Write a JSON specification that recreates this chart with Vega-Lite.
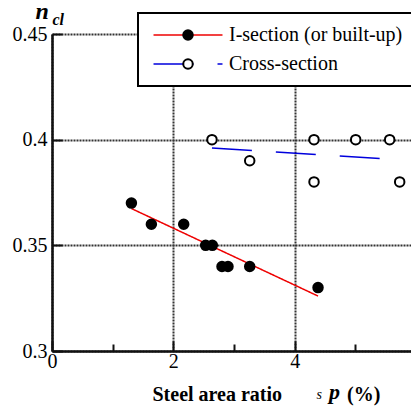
{
  "$schema": "https://vega.github.io/schema/vega-lite/v6.json",
  "width": 364,
  "height": 317,
  "autosize": {"type": "none"},
  "padding": {"left": 52, "top": 34, "right": 0, "bottom": 56},
  "background": "white",
  "config": {
    "font": "Liberation Serif",
    "view": {"stroke": null},
    "legend": {"strokeWidth": 2},
    "axis": {"labelFont": "Liberation Serif", "titleFont": "Liberation Serif"}
  },
  "title": {
    "text": "p",
    "orient": "top",
    "anchor": "start",
    "frame": "group",
    "font": "Liberation Serif",
    "fontSize": 22,
    "fontStyle": "italic",
    "fontWeight": "bold",
    "color": "black",
    "dx": 277,
    "dy": 405,
    "offset": 0
  },
  "resolve": {"axis": {"x": "independent", "y": "independent"}},
  "layer": [
    {
      "data": {
        "values": [
          {"x": 1.31, "y": 0.3674, "series": "I-section (or built-up)"},
          {"x": 4.385, "y": 0.326, "series": "I-section (or built-up)"},
          {"x": 2.637, "y": 0.3961, "series": "Cross-section"},
          {"x": 5.418, "y": 0.3911, "series": "Cross-section"}
        ]
      },
      "mark": {"type": "line", "strokeWidth": 1.5, "clip": false},
      "encoding": {
        "x": {
          "field": "x",
          "type": "quantitative",
          "scale": {"domain": [0, 6], "nice": false, "zero": false},
          "axis": {
            "orient": "bottom",
            "title": "Steel area ratio\u00a0\u00a0\u00a0\u00a0\u00a0\u00a0\u00a0\u00a0\u00a0\u00a0\u00a0\u00a0\u00a0(%)",
            "values": [0, 1, 2, 3, 4, 5, 6],
            "labelExpr": "datum.value % 2 === 0 ? format(datum.value, 'd') : ''",
            "labelOverlap": false,
            "labelFlush": false,
            "grid": true,
            "gridColor": "#333333",
            "gridDash": [2, 1],
            "gridWidth": 2,
            "gridOpacity": {"condition": {"test": "datum.value % 2 === 0", "value": 1}, "value": 0},
            "domainColor": "#111111",
            "domainWidth": 2.5,
            "tickColor": "#111111",
            "tickWidth": 2,
            "tickSize": {"condition": {"test": "datum.value % 2 === 0", "value": -10}, "value": -7},
            "labelFont": "Liberation Serif",
            "labelFontSize": 20,
            "labelColor": "black",
            "labelPadding": 10,
            "titleFont": "Liberation Serif",
            "titleFontSize": 20,
            "titleFontWeight": "bold",
            "titleColor": "black",
            "titleX": 100,
            "titleY": 49,
            "titleAlign": "left",
            "titleBaseline": "alphabetic"
          }
        },
        "y": {
          "field": "y",
          "type": "quantitative",
          "scale": {"domain": [0.3, 0.45], "nice": false, "zero": false},
          "axis": {
            "orient": "left",
            "title": "n",
            "values": [0.3, 0.35, 0.4, 0.45],
            "format": "~g",
            "labelOverlap": false,
            "labelFlush": false,
            "grid": true,
            "gridColor": "#333333",
            "gridDash": [2, 1],
            "gridWidth": 2,
            "domainColor": "#111111",
            "domainWidth": 2.5,
            "tickColor": "#111111",
            "tickWidth": 2,
            "tickSize": -10,
            "labelFont": "Liberation Serif",
            "labelFontSize": 20,
            "labelColor": "black",
            "labelPadding": 15,
            "titleFont": "Liberation Serif",
            "titleFontSize": 24,
            "titleFontWeight": "bold",
            "titleFontStyle": "italic",
            "titleColor": "black",
            "titleAngle": 0,
            "titleX": -17,
            "titleY": -16,
            "titleAlign": "left",
            "titleBaseline": "alphabetic"
          }
        },
        "color": {
          "field": "series",
          "type": "nominal",
          "scale": {"domain": ["I-section (or built-up)", "Cross-section"], "range": ["#ee0000", "#0000dd"]},
          "legend": {
            "orient": "none",
            "legendX": 86,
            "legendY": -21,
            "title": null,
            "direction": "vertical",
            "strokeColor": "black",
            "fillColor": "white",
            "padding": 12,
            "symbolType": "M-7.27,0H7.27",
            "symbolSize": 90,
            "symbolStrokeWidth": 1.5,
            "symbolOffset": 28,
            "labelFont": "Liberation Serif",
            "labelFontSize": 20,
            "labelColor": "black",
            "labelOffset": 31,
            "labelLimit": 0,
            "rowPadding": 9,
            "zindex": 0
          }
        },
        "strokeDash": {
          "field": "series",
          "type": "nominal",
          "scale": {"domain": ["I-section (or built-up)", "Cross-section"], "range": [[1, 0], [40, 24]]},
          "legend": {
            "orient": "none",
            "legendX": 86,
            "legendY": -21,
            "title": null,
            "direction": "vertical",
            "strokeColor": "black",
            "fillColor": "white",
            "padding": 12,
            "symbolType": "M-7.27,0H7.27",
            "symbolSize": 90,
            "symbolStrokeWidth": 1.5,
            "symbolOffset": 28,
            "labelFont": "Liberation Serif",
            "labelFontSize": 20,
            "labelColor": "black",
            "labelOffset": 31,
            "labelLimit": 0,
            "rowPadding": 9,
            "zindex": 0
          }
        }
      }
    },
    {
      "data": {
        "values": [
          {"x": 1.309, "y": 0.370, "type": "I-section"},
          {"x": 1.638, "y": 0.360, "type": "I-section"},
          {"x": 2.171, "y": 0.360, "type": "I-section"},
          {"x": 2.533, "y": 0.350, "type": "I-section"},
          {"x": 2.643, "y": 0.350, "type": "I-section"},
          {"x": 2.802, "y": 0.340, "type": "I-section"},
          {"x": 2.901, "y": 0.340, "type": "I-section"},
          {"x": 3.259, "y": 0.340, "type": "I-section"},
          {"x": 4.385, "y": 0.330, "type": "I-section"},
          {"x": 2.637, "y": 0.400, "type": "Cross"},
          {"x": 3.259, "y": 0.390, "type": "Cross"},
          {"x": 4.319, "y": 0.400, "type": "Cross"},
          {"x": 4.319, "y": 0.380, "type": "Cross"},
          {"x": 5.006, "y": 0.400, "type": "Cross"},
          {"x": 5.566, "y": 0.400, "type": "Cross"},
          {"x": 5.731, "y": 0.380, "type": "Cross"}
        ]
      },
      "mark": {"type": "point", "shape": "circle", "filled": true, "stroke": "black", "strokeWidth": 2, "size": 90, "opacity": 1, "clip": false},
      "encoding": {
        "x": {
          "field": "x",
          "type": "quantitative",
          "axis": {
            "orient": "top",
            "domain": false,
            "ticks": false,
            "labels": false,
            "grid": false,
            "title": "s",
            "titleFont": "Liberation Serif",
            "titleFontSize": 14,
            "titleFontStyle": "italic",
            "titleFontWeight": "normal",
            "titleColor": "black",
            "titleX": 264,
            "titleY": 364,
            "titleAlign": "left",
            "titleBaseline": "alphabetic"
          }
        },
        "y": {
          "field": "y",
          "type": "quantitative",
          "axis": {
            "orient": "right",
            "domain": false,
            "ticks": false,
            "labels": false,
            "grid": false,
            "title": "cl",
            "titleFont": "Liberation Serif",
            "titleFontSize": 16,
            "titleFontStyle": "italic",
            "titleFontWeight": "bold",
            "titleColor": "black",
            "titleAngle": 0,
            "titleX": -364,
            "titleY": -10,
            "titleAlign": "left",
            "titleBaseline": "alphabetic"
          }
        },
        "fill": {
          "field": "type",
          "type": "nominal",
          "scale": {"domain": ["I-section", "Cross"], "range": ["black", "white"]},
          "legend": {
            "orient": "none",
            "legendX": 86,
            "legendY": -21,
            "title": null,
            "direction": "vertical",
            "padding": 12,
            "symbolType": "circle",
            "symbolSize": 90,
            "symbolStrokeWidth": 2,
            "symbolStrokeColor": "black",
            "symbolOffset": 28,
            "labelExpr": "' '",
            "labelFont": "Liberation Serif",
            "labelFontSize": 20,
            "labelOpacity": 0,
            "labelOffset": 31,
            "labelLimit": 0,
            "rowPadding": 9,
            "zindex": 1
          }
        }
      }
    }
  ]
}
